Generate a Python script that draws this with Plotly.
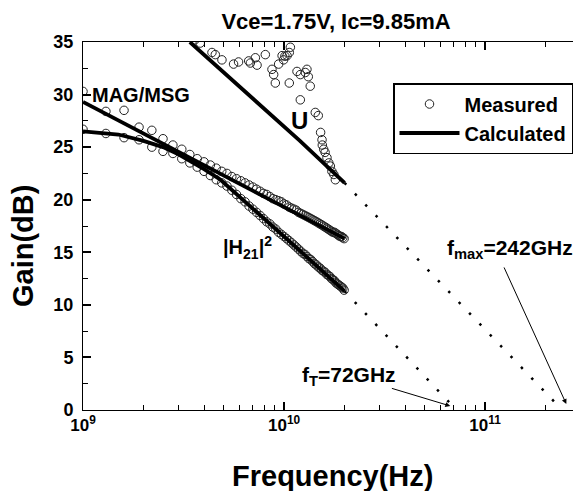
import plotly.graph_objects as go

# ---------------- data ----------------
# measured MAG/MSG and |H21|^2, frequencies in GHz
meas_f_ghz = [1.0, 1.3, 1.6, 1.9, 2.2, 2.5, 2.8, 3.1, 3.4, 3.7, 4.0, 4.3, 4.6, 4.9,
              5.2, 5.5, 5.8, 6.1, 6.4, 6.7, 7.0, 7.3, 7.6, 7.9, 8.2, 8.5, 8.8, 9.1,
              9.4, 9.7, 10.0, 10.3, 10.6, 10.9, 11.2, 11.5, 11.8, 12.1, 12.4, 12.7,
              13.0, 13.3, 13.6, 13.9, 14.2, 14.5, 14.8, 15.1, 15.4, 15.7, 16.0, 16.3,
              16.6, 16.9, 17.2, 17.5, 17.8, 18.1, 18.4, 18.7, 19.0, 19.3, 19.6, 19.9]
mag_meas = [30.3, 28.4, 28.5, 26.9, 26.6, 25.8, 25.2, 24.8, 24.3, 23.9, 23.6, 23.3,
            23.0, 22.7, 22.5, 22.2, 22.0, 21.8, 21.6, 21.4, 21.2, 21.0, 20.8, 20.6,
            20.5, 20.3, 20.1, 20.0, 19.9, 19.8, 19.6, 19.5, 19.3, 19.2, 19.1, 19.0,
            18.8, 18.7, 18.6, 18.5, 18.4, 18.3, 18.2, 18.1, 18.0, 17.9, 17.8, 17.7,
            17.6, 17.5, 17.4, 17.3, 17.2, 17.1, 17.0, 16.9, 16.9, 16.8, 16.7, 16.6,
            16.5, 16.5, 16.4, 16.3]
h21_meas = [26.7, 26.3, 25.9, 25.7, 25.0, 24.6, 24.4, 23.9, 23.5, 23.1, 22.7, 22.3,
            21.9, 21.6, 21.3, 20.9, 20.5, 20.1, 19.8, 19.4, 19.1, 18.8, 18.5, 18.2,
            17.9, 17.7, 17.4, 17.2, 16.9, 16.7, 16.5, 16.3, 16.1, 15.9, 15.7, 15.5,
            15.3, 15.1, 14.9, 14.8, 14.6, 14.4, 14.3, 14.1, 13.9, 13.8, 13.6, 13.5,
            13.3, 13.2, 13.1, 12.9, 12.8, 12.7, 12.5, 12.4, 12.3, 12.1, 12.0, 11.9,
            11.8, 11.7, 11.6, 11.4]
# measured U (noisy)
u_meas_f_ghz = [3.6, 3.83, 4.38, 4.55, 4.91, 5.61, 5.94, 6.67, 6.80, 7.20, 7.34, 8.07,
                8.71, 8.88, 9.05, 9.40, 9.78, 9.95, 10.1, 10.35, 10.62, 10.75, 10.62,
                11.6, 12.05, 12.76, 13.0, 13.2, 13.5, 12.05, 14.3, 14.8, 15.2, 15.45,
                15.5, 15.75, 16.0, 16.35, 16.7, 17.0, 17.3, 17.7, 18.0]
u_meas = [35.2, 34.9, 34.0, 33.8, 33.3, 32.9, 33.1, 33.2, 33.0, 33.5, 32.8, 33.8,
          32.4, 31.9, 31.1, 32.9, 33.7, 33.3, 33.65, 33.7, 34.0, 34.5, 31.1,
          32.2, 31.9, 32.1, 32.4, 31.7, 30.8, 29.5, 28.3, 28.0, 26.4, 25.7,
          25.2, 24.8, 24.5, 24.0, 23.5, 23.2, 22.7, 22.4, 21.9]

# calculated curves
mag_calc_f_ghz = [1, 2, 5, 10, 20]
mag_calc = [29.3, 26.3, 22.3, 19.3, 16.3]
h21_calc_f_ghz = [1, 1.5, 2, 2.5, 3, 3.5, 4, 4.83, 7, 10, 14, 20]
h21_calc = [26.5, 26.2, 25.6, 25.0, 24.3, 23.6, 22.9, 21.9, 19.2, 16.5, 14.0, 11.3]
u_calc_f_ghz = [3.4, 12, 20]
u_calc = [35.0, 25.6, 21.6]

# -20 dB/dec extrapolations to fT and fmax
u_ext_f_ghz = [20, 242]
u_ext = [21.6, 0]
h21_ext_f_ghz = [20, 72]
h21_ext = [11.3, 0]

x_tickvals = [1e9, 1e10, 1e11]
x_ticktext = ["10<sup>9</sup>", "10<sup>10</sup>", "10<sup>11</sup>"]

# ---------------------------------------------------------------
def hz(lst):
    return [v * 1e9 for v in lst]

FONT = "Arial"
marker = dict(symbol="circle-open", size=8.5, color="#222", line=dict(width=1, color="#222"))
calc_line = dict(color="black", width=3.8)
dot_line = dict(color="black", width=2.5, dash="2.5px,12.5px")

fig = go.Figure()
fig.add_trace(go.Scatter(x=hz(u_meas_f_ghz), y=u_meas, mode="markers", marker=marker,
                         name="Measured", legendgroup="m", showlegend=True))
fig.add_trace(go.Scatter(x=hz(meas_f_ghz), y=mag_meas, mode="markers", marker=marker,
                         name="Measured", legendgroup="m", showlegend=False))
fig.add_trace(go.Scatter(x=hz(meas_f_ghz), y=h21_meas, mode="markers", marker=marker,
                         name="Measured", legendgroup="m", showlegend=False))
fig.add_trace(go.Scatter(x=hz(mag_calc_f_ghz), y=mag_calc, mode="lines", line=calc_line,
                         name="Calculated", legendgroup="c", showlegend=True))
fig.add_trace(go.Scatter(x=hz(h21_calc_f_ghz), y=h21_calc, mode="lines", line=calc_line,
                         name="Calculated", legendgroup="c", showlegend=False))
fig.add_trace(go.Scatter(x=hz(u_calc_f_ghz), y=u_calc, mode="lines", line=calc_line,
                         name="Calculated", legendgroup="c", showlegend=False))
fig.add_trace(go.Scatter(x=hz(u_ext_f_ghz), y=u_ext, mode="lines", line=dot_line,
                         showlegend=False))
fig.add_trace(go.Scatter(x=hz(h21_ext_f_ghz), y=h21_ext, mode="lines", line=dot_line,
                         showlegend=False))

# the page body has an 8px margin, so the figure is drawn from (8, 8)
FIG_W, FIG_H = 573, 483
PLOT_L, PLOT_T, PLOT_W, PLOT_H = 75, 34, 498, 368
fig.update_layout(
    width=FIG_W, height=FIG_H, autosize=False,
    margin=dict(l=PLOT_L, r=0, t=PLOT_T, b=FIG_H - PLOT_T - PLOT_H),
    plot_bgcolor="white",
    title=dict(text="Vce=1.75V, Ic=9.85mA", x=328 / FIG_W, xanchor="center",
               xref="container", y=1 - 13 / FIG_H, yanchor="middle", yref="container",
               font=dict(family=FONT, size=22, color="black", weight="bold")),
    xaxis=dict(type="log", range=[9, 11.4771], tickvals=x_tickvals, ticktext=x_ticktext,
               showline=True, linecolor="black", mirror="ticks",
               ticks="inside", ticklen=8, tickwidth=2, tickcolor="black", showgrid=False,
               minor=dict(ticks="inside", ticklen=5, tickcolor="black", tickwidth=1,
                          dtick="D1"),
               tickfont=dict(family=FONT, size=17, color="black", weight="bold")),
    yaxis=dict(range=[0, 35], dtick=5, ticksuffix=" ",
               showline=True, linecolor="black", mirror="ticks",
               ticks="inside", ticklen=8, tickwidth=2, tickcolor="black", showgrid=False,
               minor=dict(ticks="inside", ticklen=5, tickcolor="black", tickwidth=1,
                          dtick=2.5),
               tickfont=dict(family=FONT, size=18, color="black", weight="bold")),
    legend=dict(x=(393 - 83) / PLOT_W, y=(410 - 83) / PLOT_H, xanchor="left", yanchor="top",
                bordercolor="black", borderwidth=1.5, bgcolor="white",
                font=dict(family=FONT, size=20, color="black", weight="bold"),
                itemwidth=60, tracegroupgap=0),
    showlegend=True,
)

title_font = dict(family=FONT, size=29, color="black", weight="bold")
ann_font = dict(family=FONT, size=20, color="black", weight="bold")
annotations = [
    dict(x=(332 - 8 - PLOT_L) / PLOT_W, y=(PLOT_T + PLOT_H - (476 - 8)) / PLOT_H,
         xref="paper", yref="paper", text="Frequency(Hz)", showarrow=False,
         font=title_font, xanchor="center", yanchor="middle"),
    dict(x=(23 - 8 - PLOT_L) / PLOT_W, y=(PLOT_T + PLOT_H - (246 - 8)) / PLOT_H,
         xref="paper", yref="paper", text="Gain(dB)", textangle=-90, showarrow=False,
         font=title_font, xanchor="center", yanchor="middle"),
    dict(x=9.290, y=30.0, text="MAG/MSG", showarrow=False, font=ann_font,
         xanchor="center", yanchor="middle"),
    dict(x=10.077, y=27.5, text="U", showarrow=False, font=dict(ann_font, size=24),
         xanchor="center", yanchor="middle"),
    dict(x=9.688, y=15.5, text="|H<sub>21</sub>|<sup>2</sup>", showarrow=False, font=ann_font,
         xanchor="left", yanchor="middle"),
    dict(x=10.081, y=3.2, text="f<sub>T</sub>=72GHz", showarrow=False,
         font=dict(ann_font, size=21), xanchor="left", yanchor="middle"),
    dict(x=10.803, y=15.3, text="f<sub>max</sub>=242GHz", showarrow=False,
         font=dict(ann_font, size=21), xanchor="left", yanchor="middle"),
    dict(x=10.827, y=0.38, ax=10.529, ay=2.1, axref="x", ayref="y",
         text="", showarrow=True, arrowhead=2, arrowsize=1, arrowwidth=1, arrowcolor="black"),
    dict(x=11.404, y=0.57, ax=11.091, ay=13.7, axref="x", ayref="y",
         text="", showarrow=True, arrowhead=2, arrowsize=1, arrowwidth=1, arrowcolor="black"),
]
for a in annotations:
    a.setdefault("xref", "x")
    a.setdefault("yref", "y")
fig.update_layout(annotations=annotations)

fig.write_html("out.html")
